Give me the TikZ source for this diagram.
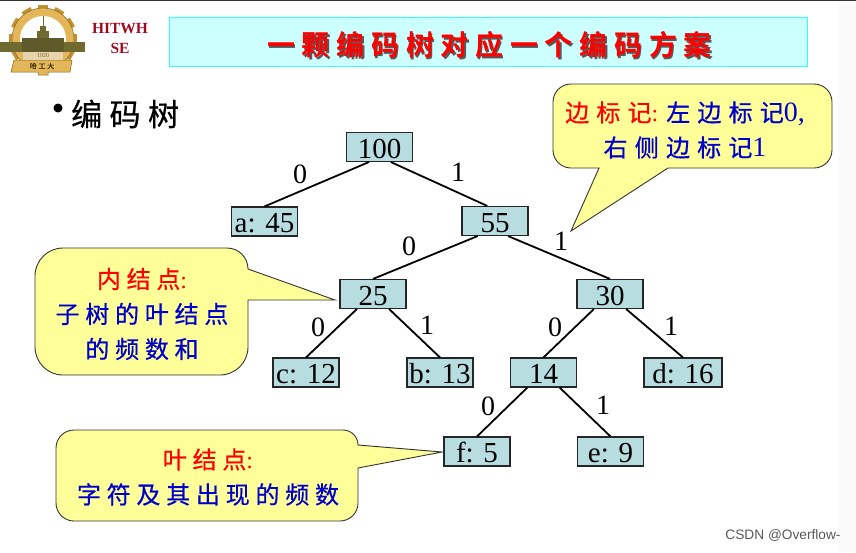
\documentclass[tikz,border=0pt]{standalone}
\usepackage{fontspec}
\setmainfont{Liberation Serif}
\newfontfamily\cjk[LetterSpace=24,FakeBold=0.6]{Noto Sans CJK SC}
\newfontfamily\cjka[LetterSpace=30,FakeBold=0.6]{Noto Sans CJK SC}
\newfontfamily\cjkb[LetterSpace=24,BoldFont={Noto Sans CJK SC Bold}]{Noto Sans CJK SC}
\newfontfamily\wmfont{Liberation Sans}
\definecolor{callfill}{HTML}{FFFF99}
\definecolor{nodefill}{HTML}{B8DDE0}
\definecolor{txtblue}{HTML}{0000CC}
\definecolor{dkred}{HTML}{A00A1E}
\definecolor{gold}{HTML}{C4902F}
\definecolor{goldlt}{HTML}{E3B65A}
\definecolor{olive}{HTML}{6E6A30}
\definecolor{titlefill}{HTML}{CCFFFF}
\definecolor{titleline}{HTML}{33FFFF}
\tikzset{
  x=1pt,y=-1pt,
  tnode/.style={draw=black!85,line width=1.1pt,fill=nodefill,minimum height=29pt,inner sep=0pt,text height=22pt,text depth=0pt,font=\fontsize{29}{29}\selectfont},
  tedge/.style={line width=1.8pt,black},
  elabel/.style={font=\fontsize{28}{28}\selectfont,inner sep=0pt},
  callout/.style={draw=black!80,line width=0.9pt,fill=callfill},
  calltext/.style={inner sep=0pt,align=center,font=\fontsize{24}{35}\selectfont,text=txtblue},
  shadowtxt/.style={inner sep=0pt,text=black!65},
}
\begin{document}
\begin{tikzpicture}
\useasboundingbox (0,0) rectangle (856,552);
\fill[white] (0,0) rectangle (856,552);
\fill[black!2] (838,1) rectangle (856,552);
\fill[black!80] (0,0) rectangle (856,1);

% logo
\foreach \a in {0,30,...,330}
  \fill[gold,rotate around={\a:(43,39)}] (38,5) rectangle (48,12);
\fill[goldlt] (43,39) circle (31);
\draw[gold!70!black,line width=0.5pt] (43,39) circle (31);
\fill[white] (43,39) circle (23);
\fill[goldlt,draw=gold!70!black,line width=0.5pt] (14,60) -- (72,60) -- (70,72) -- (48,72) -- (48,75) -- (38,75) -- (38,72) -- (11,72) -- cycle;
\fill[olive] (0,42) rectangle (85,52);
\fill[olive!85!black] (22,38) rectangle (64,52);
\fill[olive] (37,31) rectangle (49,38);
\fill[olive] (40,26) rectangle (46,31);
\draw[olive,line width=0.8pt] (43,26) -- (43,16);
\fill[gold!40] (23,52) rectangle (63,60);
\node[inner sep=0pt,font=\fontsize{6}{6}\selectfont,text=olive] (logoyear) at (43,56) {1920};
\node[inner sep=0pt,font=\cjk\fontsize{7}{7}\selectfont,text=black!70!gold] (logoname) at (42,66) {哈工大};

\node[inner sep=0pt,text=dkred,font=\bfseries\fontsize{15.5}{15.5}\selectfont] (hit) at (120,29) {HITWH};
\node[inner sep=0pt,text=dkred,font=\bfseries\fontsize{15.5}{15.5}\selectfont] (se) at (120,48) {SE};

% title
\node[draw=titleline,line width=1pt,fill=titlefill,minimum width=638pt,minimum height=49pt,inner sep=0pt] (titlebox) at (488.5,42) {};
\node[shadowtxt,font=\cjkb\bfseries\fontsize{28}{28}\selectfont] (titleshadow) at (491,46.5) {一颗编码树对应一个编码方案};
\node[inner sep=0pt,text=red,font=\cjkb\bfseries\fontsize{28}{28}\selectfont] (title) at (489.5,45) {一颗编码树对应一个编码方案};

% bullet heading
\fill[black] (58,108) circle (4.5);
\node[inner sep=0pt,anchor=west,font=\cjk\fontsize{31}{31}\selectfont] (head) at (71,114) {编码树};

% callouts
\coordinate (tipA) at (571,231);
\coordinate (tipB) at (335,300);
\coordinate (tipC) at (442,452);
\draw[callout] (599,168) -- (tipA) -- (668,168) -- (814,168) arc (90:0:18) -- (832,102) arc (0:-90:18) -- (571,84) arc (-90:-180:18) -- (553,150) arc (180:90:18) -- cycle;
\draw[callout] (248,269) -- (tipB) -- (248,300) -- (248,347) arc (0:90:28) -- (63,375) arc (90:180:28) -- (35,276) arc (180:270:28) -- (227,248) arc (-90:0:21) -- cycle;
\draw[callout] (358,445) -- (tipC) -- (358,468) -- (358,503) arc (0:90:18) -- (74,521) arc (90:180:18) -- (56,448) arc (180:270:18) -- (343,430) arc (-90:0:15) -- cycle;

\node[calltext] (ctxtA) at (685,130) {\textcolor{red}{{\cjka 边标记}:} {\cjka 左边标记}{\fontsize{28}{35}\selectfont 0,}\\{\cjka 右侧边标记}{\fontsize{28}{35}\selectfont 1}};
\node[calltext] (ctxtB) at (142,314) {\textcolor{red}{{\cjk 内结点}:}\\{\cjk 子树的叶结点}\\{\cjk 的频数和}};
\node[calltext] (ctxtC) at (208,477) {\textcolor{red}{{\cjk 叶结点}:}\\{\cjk 字符及其出现的频数}};

% tree nodes
\node[tnode,minimum width=66pt] (n100) at (379.5,147) {100};
\node[tnode,minimum width=66pt] (a) at (264.5,221.5) {a: 45};
\node[tnode,minimum width=66pt] (n55) at (495,221) {55};
\node[tnode,minimum width=66pt] (n25) at (373,294) {25};
\node[tnode,minimum width=66pt] (n30) at (610,294) {30};
\node[tnode,minimum width=66pt] (c) at (306,372.5) {c: 12};
\node[tnode,minimum width=66pt] (b) at (440,372.5) {b: 13};
\node[tnode,minimum width=66pt] (n14) at (543.5,372.5) {14};
\node[tnode,minimum width=78pt] (d) at (683,372.5) {d: 16};
\node[tnode,minimum width=66pt] (f) at (477,451.5) {f: 5};
\node[tnode,minimum width=66pt] (e) at (610.5,451.5) {e: 9};

% connectors
\draw[tedge] (n100.-125) -- (a.north);
\draw[tedge] (n100.-53) -- (n55.117);
\draw[tedge] (n55.-139) -- (n25.north);
\draw[tedge] (n55.-49) -- (n30.north);
\draw[tedge] (n25.-137) -- (c.north);
\draw[tedge] (n25.-43) -- (b.north);
\draw[tedge] (n30.-137) -- (n14.north);
\draw[tedge] (n30.-43) -- (d.north);
\draw[tedge] (n14.-137) -- (f.north);
\draw[tedge] (n14.-43) -- (e.north);

% edge labels
\node[elabel] (l1) at (300,174) {0};
\node[elabel] (l2) at (458,172) {1};
\node[elabel] (l3) at (409,246) {0};
\node[elabel] (l4) at (561,241) {1};
\node[elabel] (l5) at (318,327) {0};
\node[elabel] (l6) at (427,325) {1};
\node[elabel] (l7) at (555,327) {0};
\node[elabel] (l8) at (671,326) {1};
\node[elabel] (l9) at (488,406) {0};
\node[elabel] (l10) at (603,405) {1};

\node[inner sep=0pt,text=black!65,font=\wmfont\fontsize{13.7}{13.7}\selectfont] (wm) at (783,535) {CSDN @Overflow-};
\end{tikzpicture}
\end{document}
